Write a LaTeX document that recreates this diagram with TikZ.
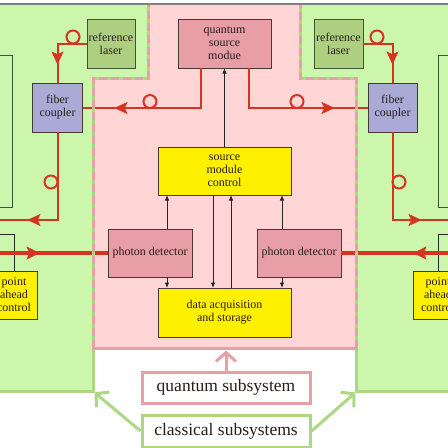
\documentclass[tikz,border=0pt]{standalone}
\usepackage{fontspec}
\setmainfont{Liberation Serif}
\usetikzlibrary{arrows.meta,decorations.markings,calc}
\definecolor{bggreen}{RGB}{204,246,172}
\definecolor{bgpink}{RGB}{255,213,213}
\definecolor{pinkline}{RGB}{232,160,168}
\definecolor{greenline}{RGB}{172,216,132}
\definecolor{qfill}{RGB}{232,158,166}
\definecolor{lfill}{RGB}{172,208,128}
\definecolor{ffill}{RGB}{170,170,214}
\definecolor{yfill}{RGB}{255,240,0}
\definecolor{redl}{RGB}{212,52,32}
\definecolor{edge}{RGB}{72,56,48}
\definecolor{lgedge}{RGB}{62,86,46}
\definecolor{txt}{RGB}{40,30,30}
\begin{document}
\begin{tikzpicture}[x=1pt,y=-1pt,
  box/.style={draw=edge, line width=1pt, inner sep=0pt, outer sep=0pt, align=center, text=txt,
    font=\fontsize{12}{13}\selectfont},
  qmod/.style={box, fill=qfill},
  ymod/.style={box, fill=yfill},
  lmod/.style={box, fill=lfill, draw=lgedge},
  fmod/.style={box, fill=ffill},
  frame/.style={draw=lgedge, line width=1pt, inner sep=0pt},
  rl/.style={draw=redl, color=redl, line width=2pt},
  rthick/.style={draw=redl, color=redl, line width=3.5pt},
  tipL/.style={draw=redl, fill=redl, line width=0.5pt},
  blk/.style={draw=black!85, line width=0.9pt, -{Latex[length=5.5pt,width=4.5pt]}},
  fibloop/.style={draw=redl, line width=2pt},
  lbl/.style={line width=3pt, fill=white, inner sep=0pt, minimum width=168pt, text=txt,
    font=\fontsize{17.5}{20}\selectfont}
]
\path[use as bounding box] (0,0) rectangle (448,448);
\clip (0,0) rectangle (448,448);
% regions
\fill[bggreen] (0,5) rectangle (448,391);
\fill[white] (93,348) rectangle (356,392.5);
\fill[bgpink] (148,5) -- (300,5) -- (300,78) -- (356,78) -- (356,348) -- (93,348) -- (93,78) -- (148,78) -- cycle;
\draw[gray, line width=1.5pt] (0,4) -- (448,4);

% modules
\node[qmod, minimum width=93pt, minimum height=49pt] (qsm) at (224.5,43.5) {quantum\\source\\modue};
\node[lmod, minimum width=48pt, minimum height=49pt] (rlL) at (111,43.5) {reference\\laser};
\node[lmod, minimum width=49pt, minimum height=49pt] (rlR) at (338.5,43.5) {reference\\laser};
\node[fmod, minimum width=50pt, minimum height=49pt] (fcL) at (57.5,107.5) {fiber\\coupler};
\node[fmod, minimum width=49pt, minimum height=49pt] (fcR) at (392.5,107.5) {fiber\\coupler};
\node[ymod, minimum width=133pt, minimum height=48pt] (smc) at (224.5,171) {source\\module\\control};
\node[qmod, minimum width=84pt, minimum height=48pt] (pdL) at (150,253) {photon detector};
\node[qmod, minimum width=84pt, minimum height=48pt] (pdR) at (299,253) {photon detector};
\node[ymod, minimum width=133pt, minimum height=49pt] (das) at (224.5,312.5) {data acquisition\\and storage};
\node[ymod, minimum width=46pt, minimum height=48pt] (pacL) at (14,295) {point\\ahead\\control};
\node[ymod, minimum width=50pt, minimum height=48pt] (pacR) at (438,295) {point\\ahead\\control};
\node[frame, minimum width=44pt, minimum height=152pt] (sideL) at (-10,131) {};
\node[frame, minimum width=44pt, minimum height=152pt] (sideR) at (460,131) {};

% control connectors
\coordinate (cL) at (-6,234);
\coordinate (cR) at (456,234);
\draw[black!85, line width=0.9pt] (pacL.north) |- (cL);
\draw[black!85, line width=0.9pt] (pacR.north) |- (cR);

% black arrows
\coordinate (a1) at ($(pdL.north)+(17,0)$);
\coordinate (a2) at ($(pdR.north)+(-17,0)$);
\coordinate (a3) at ($(smc.south)+(-11.5,0)$);
\coordinate (a4) at ($(das.north)+(6.5,0)$);
\coordinate (a5) at ($(pdL.south)+(17,0)$);
\coordinate (a6) at ($(pdR.south)+(-17,0)$);
\draw[blk] (smc.north) -- (qsm.south);
\draw[blk] (a1) -- (a1 |- smc.south);
\draw[blk] (a2) -- (a2 |- smc.south);
\draw[blk] (a3) -- (a3 |- das.north);
\draw[blk] (a4) -- (a4 |- smc.south);
\draw[blk] (a5) -- (a5 |- das.north);
\draw[blk] (a6) -- (a6 |- das.north);

% red fibre paths
\coordinate (qL) at ($(qsm.south west)+(23,0)$);
\coordinate (qR) at ($(qsm.south west)+(71,0)$);
\coordinate (oL) at (-2,220);
\coordinate (oR) at (450,220);
\coordinate (tL) at (-2,253);
\coordinate (tR) at (450,253);
\draw[rl] (qL) |- (fcL.east);
\draw[rl] (qR) |- (fcR.west);
\draw[rl] (rlL.west) -| (fcL.north);
\draw[rl] (rlR.east) -| (fcR.north);
\draw[rl] (fcL.south) |- (oL);
\draw[rl] (fcR.south) |- (oR);
\draw[rthick] (tL) -- (pdL.west);
\draw[rthick] (tR) -- (pdR.east);
% arrowheads on the fibres
\filldraw[tipL] (115,108) -- ++(12,-5.5) -- ++(-2.5,5.5) -- ++(2.5,5.5) -- cycle;
\filldraw[tipL] (334,108) -- ++(-12,-5.5) -- ++(2.5,5.5) -- ++(-2.5,5.5) -- cycle;
\filldraw[tipL] (57.5,64) -- ++(-5.5,-12) -- ++(5.5,2.5) -- ++(5.5,-2.5) -- cycle;
\filldraw[tipL] (392.5,64) -- ++(-5.5,-12) -- ++(5.5,2.5) -- ++(5.5,-2.5) -- cycle;
\filldraw[tipL] (28,220) -- ++(12,-5.5) -- ++(-2.5,5.5) -- ++(2.5,5.5) -- cycle;
\filldraw[tipL] (421,220) -- ++(-12,-5.5) -- ++(2.5,5.5) -- ++(-2.5,5.5) -- cycle;
\filldraw[tipL] (39,253) -- ++(-12,-6) -- ++(2.5,6) -- ++(-2.5,6) -- cycle;
\filldraw[tipL] (414,253) -- ++(12,-6) -- ++(-2.5,6) -- ++(2.5,6) -- cycle;
\draw[fibloop] (73,37) circle[radius=6.5];
\draw[fibloop] (377,37) circle[radius=6.5];
\draw[fibloop] (150,101.5) circle[radius=6.5];
\draw[fibloop] (297,101.5) circle[radius=6.5];
\draw[fibloop] (51,182) circle[radius=6.5];
\draw[fibloop] (399,182) circle[radius=6.5];

% region borders
\draw[greenline, line width=3pt] (0,391) -- (93,391) -- (93,78) -- (148,78) -- (148,5);
\draw[greenline, line width=3pt] (448,391) -- (356,391) -- (356,78) -- (300,78) -- (300,5);
\draw[pinkline, line width=3pt, dash pattern=on 8pt off 4pt] (93,348) -- (93,78) -- (148,78) -- (148,5);
\draw[pinkline, line width=3pt, dash pattern=on 8pt off 4pt] (356,348) -- (356,78) -- (300,78) -- (300,5);
\draw[pinkline, line width=3pt] (91.5,348) -- (357.5,348);

% legend
\node[lbl, draw=pinkline, minimum height=31pt] (ql) at (226,387.5) {quantum subsystem};
\node[lbl, draw=greenline, minimum height=32pt] (cl) at (226,431) {classical subsystems};
\coordinate (pb) at (0,350.5);
\coordinate (gL) at (94.5,392.5);
\coordinate (gR) at (355.5,392.5);
\draw[pinkline, line width=3pt, -{Straight Barb[length=9pt,width=20pt]}] (ql.north) -- (ql.north |- pb);
\draw[greenline, line width=3pt, -{Straight Barb[length=9pt,width=20pt]}] (cl.west) -- (gL);
\draw[greenline, line width=3pt, -{Straight Barb[length=9pt,width=20pt]}] (cl.east) -- (gR);
\end{tikzpicture}
\end{document}
